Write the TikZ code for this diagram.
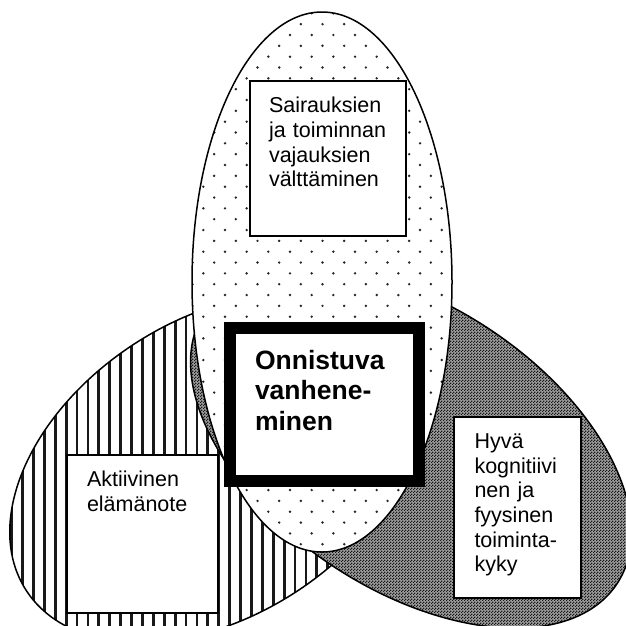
\documentclass[tikz,border=0pt]{standalone}
\usepackage{fontspec}
\setmainfont{Liberation Sans}
\usetikzlibrary{patterns}
\pgfdeclarepatternformonly{finechecker}{\pgfqpoint{0pt}{0pt}}{\pgfqpoint{2.6pt}{2.6pt}}{\pgfqpoint{2.6pt}{2.6pt}}{%
  \pgfpathrectangle{\pgfqpoint{0pt}{0pt}}{\pgfqpoint{1.3pt}{1.3pt}}%
  \pgfpathrectangle{\pgfqpoint{1.3pt}{1.3pt}}{\pgfqpoint{1.3pt}{1.3pt}}%
  \pgfusepath{fill}}
\tikzset{
  ovalline/.style={draw=black, line width=1.5pt},
  stripeline/.style={draw=black!90, line width=2.8pt},
  dotfill/.style={fill=black!85},
  thinbox/.style={draw=black, line width=1.3pt, fill=white, rectangle, inner sep=0pt, outer sep=0pt, anchor=north west, line join=miter},
  mainbox/.style={draw=black, line width=12pt, fill=white, rectangle, inner sep=0pt, outer sep=0pt, anchor=north west, line join=miter},
  boxtext/.style={anchor=north west, inner sep=0pt, outer sep=0pt, text width=160pt, align=left, font=\fontsize{21.5}{24.7}\selectfont},
  maintext/.style={anchor=north west, inner sep=0pt, outer sep=0pt, text width=170pt, align=left, font=\fontsize{26.5}{30.5}\selectfont\bfseries}
}
\begin{document}
\begin{tikzpicture}[x=1pt, y=-1pt, line join=round]
\useasboundingbox (0,0) rectangle (626,625);
\begin{scope}
\clip (0,0) rectangle (626,625);
% left oval (vertical stripes)
\begin{scope}
  \clip[rotate around={33:(215,468)}] (215,468) ellipse [x radius=225pt, y radius=148pt];
  \fill[white] (0,250) rectangle (626,660);
  \foreach \k in {0,...,45} \draw[stripeline] (0.7+10.9*\k,250) -- (0.7+10.9*\k,660);
\end{scope}
\draw[ovalline, rotate around={33:(215,468)}] (215,468) ellipse [x radius=225pt, y radius=148pt];
% right oval (fine checker)
\fill[black!38, rotate around={-33.5:(411,447.5)}] (411,447.5) ellipse [x radius=247pt, y radius=142pt];
\fill[pattern=finechecker, pattern color=black!90, rotate around={-33.5:(411,447.5)}] (411,447.5) ellipse [x radius=247pt, y radius=142pt];
\draw[ovalline, rotate around={-33.5:(411,447.5)}] (411,447.5) ellipse [x radius=247pt, y radius=142pt];
% top oval (sparse dots)
\fill[white] (322,282) ellipse [x radius=130pt, y radius=270pt];
\begin{scope}
  \clip (322,282) ellipse [x radius=130pt, y radius=270pt];
  \foreach \i in {-3,...,11} {
    \foreach \j in {-15,...,12} {
      \fill[dotfill] (225+21.67*\i,316.7+21.67*\j) circle[radius=1.35pt]
                     (235.83+21.67*\i,327.53+21.67*\j) circle[radius=1.35pt];
    }
  }
\end{scope}
\draw[ovalline] (322,282) ellipse [x radius=130pt, y radius=270pt];
% boxes
\node[thinbox, minimum width=156pt, minimum height=155pt] (sbox) at (250,81) {};
\node[boxtext] (stext) at (269,95.7) {\rule{0pt}{17pt}Sairauksien\\ja toiminnan\\vajauksien\\välttäminen};
\node[thinbox, minimum width=151pt, minimum height=158pt] (abox) at (67,455) {};
\node[boxtext] (atext) at (87,469.7) {\rule{0pt}{17pt}Aktiivinen\\elämänote};
\node[thinbox, minimum width=127pt, minimum height=181pt] (hbox) at (454,417) {};
\node[boxtext] (htext) at (474.5,431.3) {\rule{0pt}{17pt}Hyvä\\kognitiivi\\nen ja\\fyysinen\\toiminta-\\kyky};
\node[mainbox, minimum width=189.5pt, minimum height=153pt] (obox) at (229.5,328) {};
\node[maintext] (otext) at (255,348) {\rule{0pt}{21pt}Onnistuva\\vanhene-\\minen};
\end{scope}
\end{tikzpicture}
\end{document}
